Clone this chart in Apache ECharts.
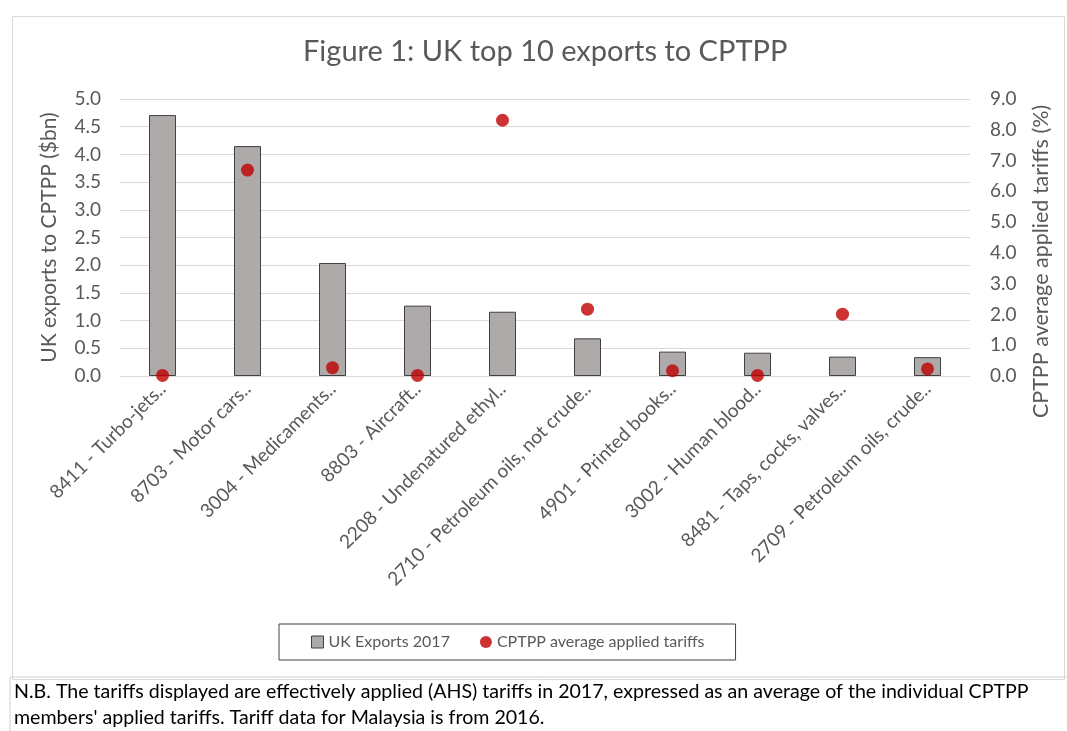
<!DOCTYPE html>
<html>
<head>
<meta charset="utf-8">
<script src="https://cdn.jsdelivr.net/npm/echarts@6/dist/echarts.min.js"></script>
<style>
html,body{margin:0;padding:0;background:#fff;}
#main{width:1067px;height:731px;}
</style>
</head>
<body>
<div id="main"></div>
<script>
const categories = [
  "8411 - Turbo-jets..",
  "8703 - Motor cars..",
  "3004 - Medicaments..",
  "8803 - Aircraft..",
  "2208 - Undenatured ethyl..",
  "2710 - Petroleum oils, not crude..",
  "4901 - Printed books..",
  "3002 - Human blood..",
  "8481 - Taps, cocks, valves..",
  "2709 - Petroleum oils, crude.."
];
const exports2017 = [4.71, 4.15, 2.04, 1.27, 1.16, 0.68, 0.44, 0.42, 0.35, 0.34];
const tariffs = [0.02, 6.69, 0.27, 0.02, 8.31, 2.17, 0.17, 0.02, 2.01, 0.23];
const titleText = "Figure 1: UK top 10 exports to CPTPP";
const leftAxisName = "UK exports to CPTPP ($bn)";
const rightAxisName = "CPTPP average applied tariffs (%)";
const seriesNames = ["UK Exports 2017", "CPTPP average applied tariffs"];
const noteText = "N.B. The tariffs displayed are effectively applied (AHS) tariffs in 2017, expressed as an average of the individual CPTPP\nmembers' applied tariffs. Tariff data for Malaysia is from 2016.";

const FONT = "Lato, 'Open Sans', sans-serif";
const chart = echarts.init(document.getElementById('main'));
chart.setOption({
  animation: false,
  textStyle: {fontFamily: FONT},
  title: {
    text: titleText, left: 298, top: 32,
    textStyle: {fontFamily: FONT, fontSize: 29, fontWeight: 'normal', color: '#595959'}
  },
  grid: {left: 120, right: 97, top: 99, bottom: 355},
  legend: {
    data: [
      {name: seriesNames[0], icon: 'rect', itemStyle: {color: '#aeaaaa', borderColor: '#404040', borderWidth: 1}},
      {name: seriesNames[1], icon: 'circle'}
    ],
    left: 279, top: 624,
    itemWidth: 12, itemHeight: 12, itemGap: 30,
    padding: [10, 31, 10, 32],
    borderColor: '#404040', borderWidth: 1,
    textStyle: {fontFamily: FONT, fontSize: 16, color: '#595959'}
  },
  xAxis: {
    type: 'category', data: categories,
    axisTick: {show: false},
    axisLine: {lineStyle: {color: '#d9d9d9'}},
    axisLabel: {rotate: 45, interval: 0, fontSize: 19, color: '#595959', margin: 10, fontFamily: FONT}
  },
  yAxis: [
    {
      type: 'value', min: 0, max: 5, interval: 0.5,
      name: leftAxisName, nameLocation: 'middle', nameGap: 60, nameRotate: 90,
      nameTextStyle: {fontSize: 21, color: '#595959', fontFamily: FONT},
      axisLabel: {formatter: v => v.toFixed(1), fontSize: 19, color: '#595959', margin: 19, fontFamily: FONT},
      axisLine: {show: false}, axisTick: {show: false},
      splitLine: {lineStyle: {color: '#d9d9d9', width: 1}}
    },
    {
      type: 'value', min: 0, max: 9, interval: 1,
      name: rightAxisName, nameLocation: 'middle', nameGap: 60, nameRotate: 90,
      nameTextStyle: {fontSize: 21.5, color: '#595959', fontFamily: FONT, padding: [0, 48, 0, 0]},
      axisLabel: {formatter: v => v.toFixed(1), fontSize: 19, color: '#595959', margin: 20, fontFamily: FONT},
      axisLine: {show: false}, axisTick: {show: false},
      splitLine: {show: false}
    }
  ],
  series: [
    {
      name: seriesNames[0], type: 'bar', data: exports2017, yAxisIndex: 0,
      barWidth: 27,
      itemStyle: {color: '#aeaaaa', borderColor: '#404040', borderWidth: 1}
    },
    {
      name: seriesNames[1], type: 'scatter', data: tariffs, yAxisIndex: 1,
      symbol: 'circle', symbolSize: 13,
      itemStyle: {color: '#c00000'}, z: 5
    }
  ],
  graphic: [
    {type: 'rect', left: 10, top: 14, shape: {width: 1052, height: 663}, style: {fill: 'none', stroke: '#d9d9d9', lineWidth: 1}, silent: true, z: -1},
    {type: 'line', shape: {x1: 10, y1: 677, x2: 1067, y2: 677}, style: {stroke: '#d0d0d0', lineWidth: 1}},
    {type: 'line', shape: {x1: 10, y1: 677, x2: 10, y2: 731}, style: {stroke: '#d0d0d0', lineWidth: 1}},
    {type: 'text', left: 14, top: 679, style: {text: noteText, fontFamily: FONT, fontSize: 19.6, lineHeight: 26, fill: '#000000'}}
  ]
});
</script>
</body>
</html>
